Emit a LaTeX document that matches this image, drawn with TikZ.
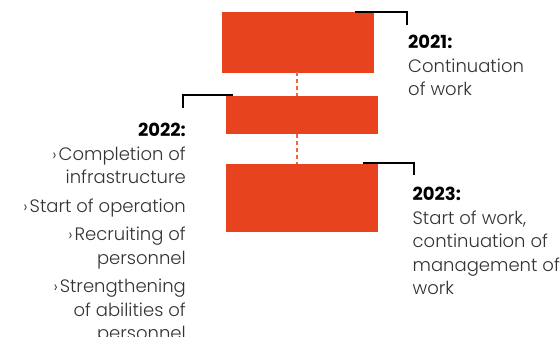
\documentclass[tikz,border=0pt]{standalone}
\usepackage{fontspec}
\setmainfont{Poppins Light}[BoldFont={Poppins Bold}]
\definecolor{boxred}{HTML}{E8431F}
\definecolor{dashred}{HTML}{F06440}
\definecolor{bodygray}{HTML}{333333}
\newcommand{\hd}[1]{{\color{black}\bfseries #1}}
\newcommand{\bul}{{\fontsize{16}{16}\selectfont ›}\hspace{2pt}}
\begin{document}
\begin{tikzpicture}[x=1pt,y=-1pt,
  bar/.style={fill=boxred, draw=none, inner sep=0pt, anchor=north west},
  bracket/.style={draw=black, line width=2pt},
  link/.style={draw=dashred, line width=2.5pt, dash pattern=on 4pt off 3pt},
  label/.style={inner sep=0pt, text=bodygray, font=\fontsize{18}{23.5}\selectfont}]
\useasboundingbox (0,0) rectangle (560,337);
\node[bar, minimum width=152pt, minimum height=60.5pt] (b1) at (222,12) {};
\node[bar, minimum width=152pt, minimum height=37.5pt] (b2) at (226,96) {};
\node[bar, minimum width=152pt, minimum height=68pt] (b3) at (226,164) {};
\coordinate (d1) at (297,72.5);
\coordinate (d2) at (297,96);
\coordinate (d3) at (297,133.5);
\coordinate (d4) at (297,164);
\draw[link] (d1) -- (d2);
\draw[link] (d3) -- (d4);
\coordinate (k1a) at (355,12);
\coordinate (k1b) at (407,12);
\coordinate (k1c) at (407,25);
\draw[bracket] (k1a) -- (k1b) -- (k1c);
\coordinate (k2a) at (233,95.5);
\coordinate (k2b) at (182.5,95.5);
\coordinate (k2c) at (182.5,108);
\draw[bracket] (k2a) -- (k2b) -- (k2c);
\coordinate (k3a) at (363,162.5);
\coordinate (k3b) at (414,162.5);
\coordinate (k3c) at (414,175);
\draw[bracket] (k3a) -- (k3b) -- (k3c);
\node[label, anchor=north west, align=left] (t1) at (408,35)
  {\hd{2021:}\\Continuation\\of work};
\node[label, anchor=north west, align=left] (t3) at (412.5,187)
  {\hd{2023:}\\Start of work,\\continuation of\\management of\\work};
\node[label, anchor=north east, align=right] (t2) at (186,123)
  {\hd{2022:}\\\bul Completion of\\infrastructure\\[5pt]\bul Start of operation\\[5pt]\bul Recruiting of\\personnel\\[5pt]\bul Strengthening\\of abilities of\\personnel};
\end{tikzpicture}
\end{document}
